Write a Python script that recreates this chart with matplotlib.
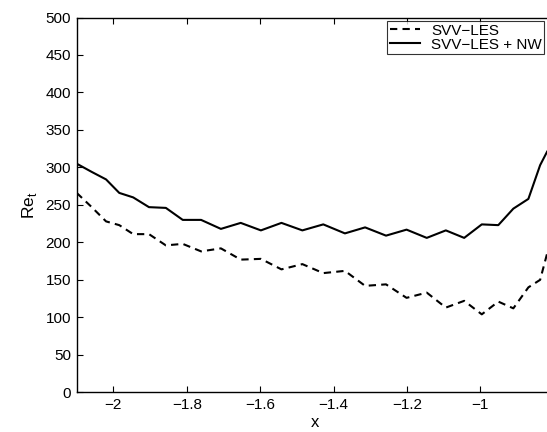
import matplotlib
matplotlib.use('Agg')
import matplotlib.pyplot as plt

plt.rcParams['font.family'] = ['Liberation Sans', 'DejaVu Sans']

# x grid (shared by both curves)
x = [-2.100, -2.059, -2.020, -1.984, -1.946, -1.903, -1.857, -1.811, -1.761,
     -1.707, -1.653, -1.598, -1.542, -1.485, -1.428, -1.369, -1.314, -1.257,
     -1.201, -1.146, -1.094, -1.044, -0.996, -0.951, -0.910, -0.869, -0.837,
     -0.818]

# SVV-LES (dashed)
re_svv = [266, 247, 228, 223, 211, 211, 196, 198, 188,
          192, 177, 178, 164, 171, 159, 162, 142, 144,
          126, 133, 113, 122, 104, 121, 112, 140, 150,
          185]

# SVV-LES + NW (solid)
re_svv_nw = [305, 294, 284, 266, 260, 247, 246, 230, 230,
             218, 226, 216, 226, 216, 224, 212, 220, 209,
             217, 206, 216, 206, 224, 223, 245, 258, 303,
             321]

xticks = [-2, -1.8, -1.6, -1.4, -1.2, -1]
xticklabels = ['\u22122', '\u22121.8', '\u22121.6', '\u22121.4', '\u22121.2', '\u22121']
yticks = list(range(0, 501, 50))

fig = plt.figure(figsize=(5.47, 4.32), dpi=100)
ax = fig.add_axes([76.7 / 547, 39.7 / 432, 477.0 / 547, 374.8 / 432])

ax.plot(x, re_svv, color='black', lw=1.5, linestyle=(0, (3.5, 2.5)), label='SVV\u2212LES')
ax.plot(x, re_svv_nw, color='black', lw=1.5, label='SVV\u2212LES + NW')

ax.set_xlim(-2.1, -0.8)
ax.set_ylim(0, 500)
ax.set_xticks(xticks)
ax.set_xticklabels(xticklabels)
ax.set_yticks(yticks)
ax.tick_params(direction='in', length=4, width=0.8, top=True, right=True,
               labelsize=11, pad=4)
for s in ax.spines.values():
    s.set_linewidth(1.0)

ax.set_xlabel('x', fontsize=12, labelpad=2)
ax.set_ylabel('Re$_{\\mathregular{t}}$', fontsize=12.5, labelpad=5)

leg = ax.legend(loc='upper right', bbox_to_anchor=(544 / 547, (432 - 21.5) / 432),
                bbox_transform=fig.transFigure, fontsize=11, frameon=True,
                fancybox=False, edgecolor='black', handlelength=2.0,
                borderpad=0.15, labelspacing=0.0, handletextpad=0.7, borderaxespad=0)
leg.get_frame().set_linewidth(0.8)

fig.savefig('out.png', dpi=100)
